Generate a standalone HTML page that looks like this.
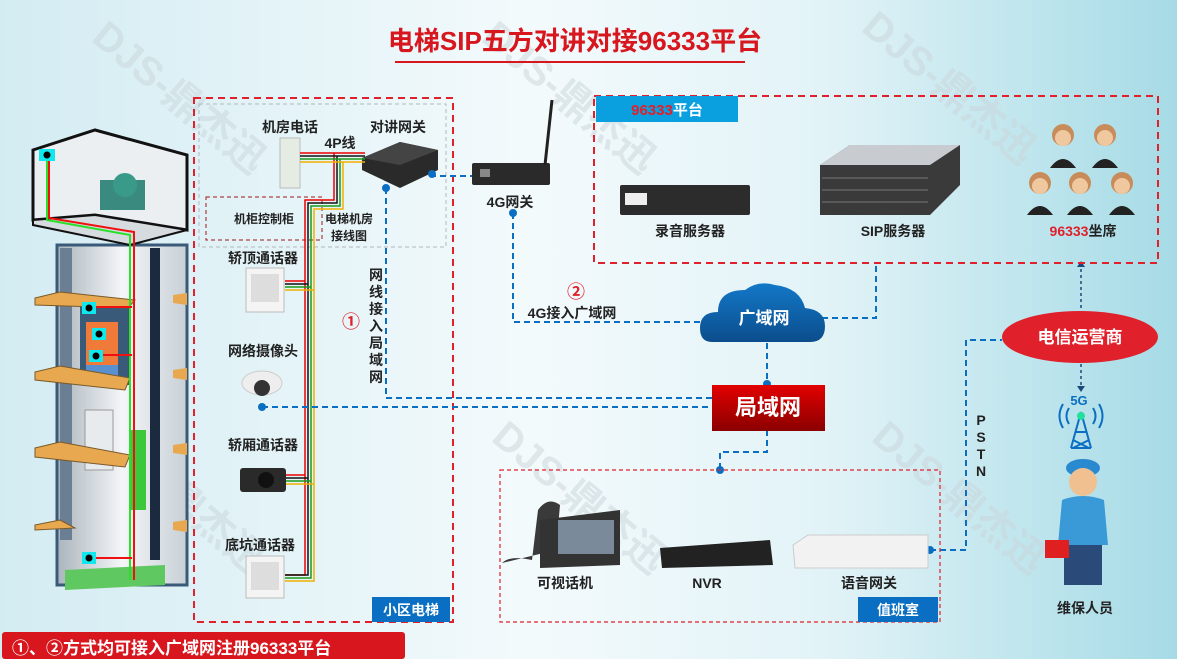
<!DOCTYPE html>
<html><head><meta charset="utf-8"><style>
html,body{margin:0;padding:0}
body{width:1177px;height:659px;overflow:hidden;font-family:"Liberation Sans","Noto Sans CJK SC",sans-serif}
svg text{font-family:"Liberation Sans","Noto Sans CJK SC",sans-serif;font-weight:bold}
</style></head><body>
<svg width="1177" height="659" viewBox="0 0 1177 659" xmlns="http://www.w3.org/2000/svg">
<defs>
<linearGradient id="bg" x1="0" x2="1" y1="0" y2="0">
<stop offset="0" stop-color="#d3ecf2"/><stop offset="0.45" stop-color="#f3fafc"/><stop offset="0.7" stop-color="#e2f3f7"/><stop offset="1" stop-color="#a6dbe6"/></linearGradient>
<linearGradient id="red" x1="0" y1="0" x2="0" y2="1"><stop offset="0" stop-color="#e20000"/><stop offset="1" stop-color="#8a0000"/></linearGradient>
<linearGradient id="cloud" x1="0" y1="0" x2="0" y2="1"><stop offset="0" stop-color="#1378c8"/><stop offset="1" stop-color="#0b4d8c"/></linearGradient>
<linearGradient id="wall" x1="0" x2="1"><stop offset="0" stop-color="#aab4bc"/><stop offset="0.5" stop-color="#f4f6f8"/><stop offset="1" stop-color="#c8d0d6"/></linearGradient>
</defs>
<rect width="1177" height="659" fill="url(#bg)"/>
<!-- watermarks -->
<g fill="#c8d4d8" opacity="0.5" font-size="40" font-weight="bold">
<text x="90" y="40" transform="rotate(40 90 40)">DJS-鼎杰迅</text>
<text x="480" y="40" transform="rotate(40 480 40)">DJS-鼎杰迅</text>
<text x="860" y="30" transform="rotate(40 860 30)">DJS-鼎杰迅</text>
<text x="90" y="440" transform="rotate(40 90 440)">DJS-鼎杰迅</text>
<text x="490" y="440" transform="rotate(40 490 440)">DJS-鼎杰迅</text>
<text x="870" y="440" transform="rotate(40 870 440)">DJS-鼎杰迅</text>
</g>
<!-- title -->
<text x="575" y="50" text-anchor="middle" font-size="26" fill="#d8161e">电梯SIP五方对讲对接96333平台</text>
<line x1="395" y1="62" x2="745" y2="62" stroke="#d8161e" stroke-width="2"/>

<!-- Elevator shaft -->
<g>
<polygon points="57,245 187,245 187,585 57,585" fill="url(#wall)" stroke="#3a5a7a" stroke-width="3"/>
<polygon points="33,150 95,130 187,155 187,230 95,215 33,220" fill="#eceff2" stroke="#111" stroke-width="3"/>
<polygon points="33,220 95,215 187,230 130,245 33,225" fill="#d6dbe0" stroke="#111" stroke-width="2"/>
<polygon points="60,248 72,248 72,540 60,540" fill="#6b7f94"/>
<polygon points="150,248 160,248 160,560 150,560" fill="#1c2a40"/>
<rect x="130" y="430" width="16" height="80" fill="#3cc83c"/>
<polygon points="80,300 130,300 130,385 80,385" fill="#3a5a7a"/>
<rect x="86" y="322" width="32" height="58" fill="#f07a3a"/>
<rect x="86" y="365" width="32" height="15" fill="#5890d0"/>
<rect x="85" y="410" width="28" height="60" fill="#e8ebee" stroke="#999"/>
<polygon points="35,298 60,292 135,300 128,308 35,305" fill="#e8a850" stroke="#7a5a2a"/>
<polygon points="35,372 60,366 130,378 125,390 35,380" fill="#e8a850" stroke="#7a5a2a"/>
<polygon points="35,448 60,442 130,455 125,467 35,457" fill="#e8a850" stroke="#7a5a2a"/>
<polygon points="35,525 60,520 75,528 35,530" fill="#e8a850" stroke="#7a5a2a"/>
<polygon points="173,295 187,293 187,305 173,303" fill="#e8a850"/>
<polygon points="173,370 187,368 187,380 173,378" fill="#e8a850"/>
<polygon points="173,445 187,443 187,455 173,453" fill="#e8a850"/>
<polygon points="173,522 187,520 187,532 173,530" fill="#e8a850"/>
<polygon points="65,570 165,565 165,585 65,590" fill="#60c860"/>
<rect x="100" y="180" width="45" height="30" fill="#3a8a80"/>
<circle cx="125" cy="185" r="12" fill="#3a9a8a"/>
<path d="M47 155 V220 L130 235 V580" stroke="#2be02b" stroke-width="2" fill="none"/>
<path d="M49 155 V218 L134 232 V580" stroke="#f01010" stroke-width="2" fill="none"/>
<path d="M88 307 H132 M95 355 H132 M88 558 H132" stroke="#f01010" stroke-width="2"/>
<rect x="39" y="149" width="16" height="12" fill="#10e8ee"/><circle cx="47" cy="155" r="3.5" fill="#000"/>
<rect x="82" y="302" width="14" height="12" fill="#10e8ee"/><circle cx="89" cy="308" r="3.5" fill="#000"/>
<rect x="92" y="328" width="14" height="12" fill="#10e8ee"/><circle cx="99" cy="334" r="3.5" fill="#000"/>
<rect x="89" y="350" width="14" height="12" fill="#10e8ee"/><circle cx="96" cy="356" r="3.5" fill="#000"/>
<rect x="82" y="552" width="14" height="12" fill="#10e8ee"/><circle cx="89" cy="558" r="3.5" fill="#000"/>
</g>

<!-- 小区电梯 box -->
<rect x="194" y="98" width="259" height="524" fill="none" stroke="#e0202a" stroke-width="2" stroke-dasharray="7,5"/>
<rect x="199" y="104" width="247" height="143" fill="none" stroke="#b0b8bc" stroke-width="1" stroke-dasharray="4,3"/>
<rect x="206" y="197" width="116" height="43" fill="none" stroke="#a01818" stroke-width="1" stroke-dasharray="4,3"/>
<rect x="372" y="597" width="78" height="25" fill="#0a6fc2"/>
<text x="411" y="615" text-anchor="middle" font-size="14" fill="#fff">小区电梯</text>
<text x="290" y="132" text-anchor="middle" font-size="14" fill="#222">机房电话</text>
<text x="398" y="132" text-anchor="middle" font-size="14" fill="#222">对讲网关</text>
<text x="340" y="148" text-anchor="middle" font-size="14" fill="#222">4P线</text>
<text x="264" y="223" text-anchor="middle" font-size="12" fill="#222">机柜控制柜</text>
<text x="349" y="223" text-anchor="middle" font-size="12" fill="#222">电梯机房</text>
<text x="349" y="240" text-anchor="middle" font-size="12" fill="#222">接线图</text>
<text x="263" y="263" text-anchor="middle" font-size="14" fill="#222">轿顶通话器</text>
<text x="263" y="356" text-anchor="middle" font-size="14" fill="#222">网络摄像头</text>
<text x="263" y="450" text-anchor="middle" font-size="14" fill="#222">轿厢通话器</text>
<text x="260" y="550" text-anchor="middle" font-size="14" fill="#222">底坑通话器</text>
<!-- machine room phone -->
<rect x="280" y="138" width="20" height="50" fill="#e4ece4" stroke="#bbb"/>
<!-- intercom gateway -->
<polygon points="362,158 400,142 438,150 438,170 400,188 362,170" fill="#2a2a2a"/>
<polygon points="362,158 400,142 438,150 400,165" fill="#444"/>
<!-- wires -->
<g fill="none" stroke-width="1.5">
<path d="M300 153 H365 M334 153 V200 H305 V575 H285" stroke="#e00"/>
<path d="M300 156 H365 M337 156 V203 H308 V575 H285" stroke="#111"/>
<path d="M300 159 H365 M340 159 V206 H311 V578 H285" stroke="#1a9a1a"/>
<path d="M300 162 H365 M343 162 V209 H314 V581 H285" stroke="#f0b000"/>
<path d="M285 281 H305 M285 284 H308 M285 287 H311 M285 290 H314"/>
<path d="M285 281 H305 M285 475 H305" stroke="#e00"/>
<path d="M285 478 H308" stroke="#111"/><path d="M285 481 H311" stroke="#1a9a1a"/><path d="M285 484 H314" stroke="#f0b000"/>
<path d="M285 284 H308" stroke="#111"/><path d="M285 287 H311" stroke="#1a9a1a"/><path d="M285 290 H314" stroke="#f0b000"/>
</g>
<!-- devices -->
<rect x="246" y="268" width="38" height="44" fill="#f4f4f4" stroke="#bbb"/>
<rect x="251" y="274" width="28" height="28" fill="#ddd"/>
<ellipse cx="262" cy="383" rx="20" ry="12" fill="#eee" stroke="#ccc"/><circle cx="262" cy="388" r="8" fill="#333"/>
<rect x="240" y="468" width="46" height="24" rx="3" fill="#2a2a2a"/><circle cx="266" cy="480" r="8" fill="#111"/>
<rect x="246" y="556" width="38" height="42" fill="#f4f4f4" stroke="#bbb"/>
<rect x="251" y="562" width="28" height="28" fill="#ddd"/>
<!-- vertical label -->
<g font-size="14" fill="#222" text-anchor="middle">
<text x="376" y="280">网</text><text x="376" y="297">线</text><text x="376" y="314">接</text><text x="376" y="331">入</text><text x="376" y="348">局</text><text x="376" y="365">域</text><text x="376" y="382">网</text>
</g>
<text x="351" y="328" text-anchor="middle" font-size="18" font-weight="normal" fill="#e0202a">①</text>

<!-- 4G gateway -->
<rect x="472" y="163" width="78" height="22" rx="2" fill="#2a2a2a"/>
<rect x="480" y="169" width="10" height="8" fill="#888"/>
<line x1="545" y1="165" x2="552" y2="100" stroke="#222" stroke-width="3"/>
<text x="510" y="207" text-anchor="middle" font-size="14" fill="#222">4G网关</text>
<text x="576" y="298" text-anchor="middle" font-size="18" font-weight="normal" fill="#e0202a">②</text>
<text x="572" y="318" text-anchor="middle" font-size="14" fill="#222">4G接入广域网</text>

<!-- blue dashed connectors -->
<g fill="none" stroke="#0a6fc2" stroke-width="2" stroke-dasharray="6,4">
<path d="M430 176 H472"/>
<path d="M386 188 V398 H712"/>
<path d="M262 407 H712"/>
<path d="M513 213 V322 H712"/>
<path d="M822 318 H876 V263"/>
<path d="M767 343 V382"/>
<path d="M767 430 V452 H720 V470"/>
<path d="M930 550 H966 V340 H1002"/>
</g>
<g fill="none" stroke="#1a4a7a" stroke-width="1.5" stroke-dasharray="3,3">
<path d="M1081 263 V315"/><path d="M1081 358 V390"/>
</g>
<polygon points="1077,386 1085,386 1081,392" fill="#1a4a7a"/>
<polygon points="1077,267 1085,267 1081,261" fill="#1a4a7a"/>
<g fill="#0a6fc2">
<circle cx="432" cy="174" r="4"/><circle cx="386" cy="188" r="4"/><circle cx="513" cy="213" r="4"/>
<circle cx="262" cy="407" r="4"/><circle cx="767" cy="384" r="4"/><circle cx="720" cy="470" r="4"/><circle cx="930" cy="550" r="4"/>
</g>

<!-- cloud -->
<path d="M712 342 Q700 342 700 328 Q700 312 718 312 Q718 290 745 290 Q758 280 775 285 Q800 288 805 308 Q825 310 825 326 Q825 342 810 342 Z" fill="url(#cloud)"/>
<text x="764" y="324" text-anchor="middle" font-size="17" fill="#fff">广域网</text>
<!-- 局域网 -->
<rect x="712" y="385" width="113" height="46" fill="url(#red)"/>
<text x="768" y="415" text-anchor="middle" font-size="22" fill="#fff">局域网</text>

<!-- 96333 platform -->
<rect x="594" y="96" width="564" height="167" fill="none" stroke="#e0202a" stroke-width="2" stroke-dasharray="7,5"/>
<rect x="596" y="96" width="142" height="26" fill="#0aa0e0"/>
<text x="667" y="115" text-anchor="middle" font-size="15"><tspan fill="#e0202a">96333</tspan><tspan fill="#fff">平台</tspan></text>
<rect x="620" y="185" width="130" height="30" rx="2" fill="#2c2c2c"/>
<rect x="625" y="193" width="22" height="12" fill="#eee"/>
<text x="690" y="236" text-anchor="middle" font-size="14" fill="#222">录音服务器</text>
<polygon points="820,165 850,145 960,145 960,185 930,215 820,215" fill="#3a3a3a"/>
<polygon points="820,165 850,145 960,145 930,165" fill="#c8ccd0"/>
<g stroke="#777" stroke-width="1">
<line x1="822" y1="178" x2="928" y2="178"/><line x1="822" y1="190" x2="928" y2="190"/><line x1="822" y1="202" x2="928" y2="202"/>
</g>
<text x="893" y="236" text-anchor="middle" font-size="14" fill="#222">SIP服务器</text>
<g fill="#c88c5a">
<circle cx="1063" cy="135" r="11"/><circle cx="1105" cy="135" r="11"/>
<circle cx="1040" cy="183" r="11"/><circle cx="1080" cy="183" r="11"/><circle cx="1122" cy="183" r="11"/>
</g>
<g fill="#f0c8a0">
<circle cx="1063" cy="138" r="8"/><circle cx="1105" cy="138" r="8"/>
<circle cx="1040" cy="186" r="8"/><circle cx="1080" cy="186" r="8"/><circle cx="1122" cy="186" r="8"/>
</g>
<g fill="#222">
<path d="M1050 168 Q1063 150 1076 168 Z"/><path d="M1092 168 Q1105 150 1118 168 Z"/>
<path d="M1027 215 Q1040 197 1053 215 Z"/><path d="M1067 215 Q1080 197 1093 215 Z"/><path d="M1109 215 Q1122 197 1135 215 Z"/>
</g>
<text x="1083" y="236" text-anchor="middle" font-size="14"><tspan fill="#e0202a">96333</tspan><tspan fill="#222">坐席</tspan></text>

<!-- telecom -->
<ellipse cx="1080" cy="337" rx="78" ry="26" fill="#e0202a"/>
<text x="1080" y="343" text-anchor="middle" font-size="17" fill="#fff">电信运营商</text>
<text x="1079" y="405" text-anchor="middle" font-size="13" fill="#0a6fc2">5G</text>
<g stroke="#0a6fc2" stroke-width="2" fill="none">
<path d="M1081 412 L1071 448 M1081 412 L1091 448 M1071 448 H1091 M1075 432 H1087 M1073 440 L1089 448 M1089 440 L1073 448"/>
<path d="M1069 408 Q1064 416 1069 424 M1093 408 Q1098 416 1093 424 M1063 404 Q1056 416 1063 428 M1099 404 Q1106 416 1099 428"/>
</g>
<circle cx="1081" cy="416" r="4" fill="#20e0a0"/>
<g font-size="14" fill="#222" text-anchor="middle">
<text x="981" y="425">P</text><text x="981" y="442">S</text><text x="981" y="459">T</text><text x="981" y="476">N</text>
</g>
<!-- worker -->
<ellipse cx="1083" cy="468" rx="17" ry="9" fill="#2a8ad0"/>
<circle cx="1083" cy="482" r="14" fill="#f0c090"/>
<path d="M1062 500 Q1083 492 1104 500 L1108 545 H1058 Z" fill="#3a9ad8"/>
<rect x="1064" y="545" width="38" height="40" fill="#2a4a7a"/>
<rect x="1045" y="540" width="24" height="18" fill="#e02020"/>
<text x="1085" y="613" text-anchor="middle" font-size="14" fill="#222">维保人员</text>

<!-- duty room -->
<rect x="500" y="470" width="440" height="152" fill="none" stroke="#e0202a" stroke-width="1.2" stroke-dasharray="4,3"/>
<rect x="858" y="597" width="80" height="25" fill="#0a6fc2"/>
<text x="898" y="615" text-anchor="middle" font-size="14" fill="#fff">值班室</text>
<path d="M502 563 Q510 555 532 560 L538 510 Q548 496 560 505 L556 550 Z" fill="#3a3a3a"/>
<polygon points="540,520 620,510 620,565 540,568" fill="#333"/>
<rect x="558" y="520" width="56" height="34" fill="#7a8a9a"/>
<text x="565" y="588" text-anchor="middle" font-size="14" fill="#222">可视话机</text>
<polygon points="660,548 770,540 773,565 662,568" fill="#222"/>
<text x="707" y="588" text-anchor="middle" font-size="14" fill="#222">NVR</text>
<polygon points="793,545 808,535 928,535 928,568 795,568" fill="#f2f2f2" stroke="#ccc"/>
<text x="869" y="588" text-anchor="middle" font-size="14" fill="#222">语音网关</text>

<!-- bottom banner -->
<rect x="2" y="632" width="403" height="27" rx="3" fill="#d8161e"/>
<text x="12" y="654" font-size="17" fill="#fff">①、②方式均可接入广域网注册96333平台</text>
</svg>
</body></html>
